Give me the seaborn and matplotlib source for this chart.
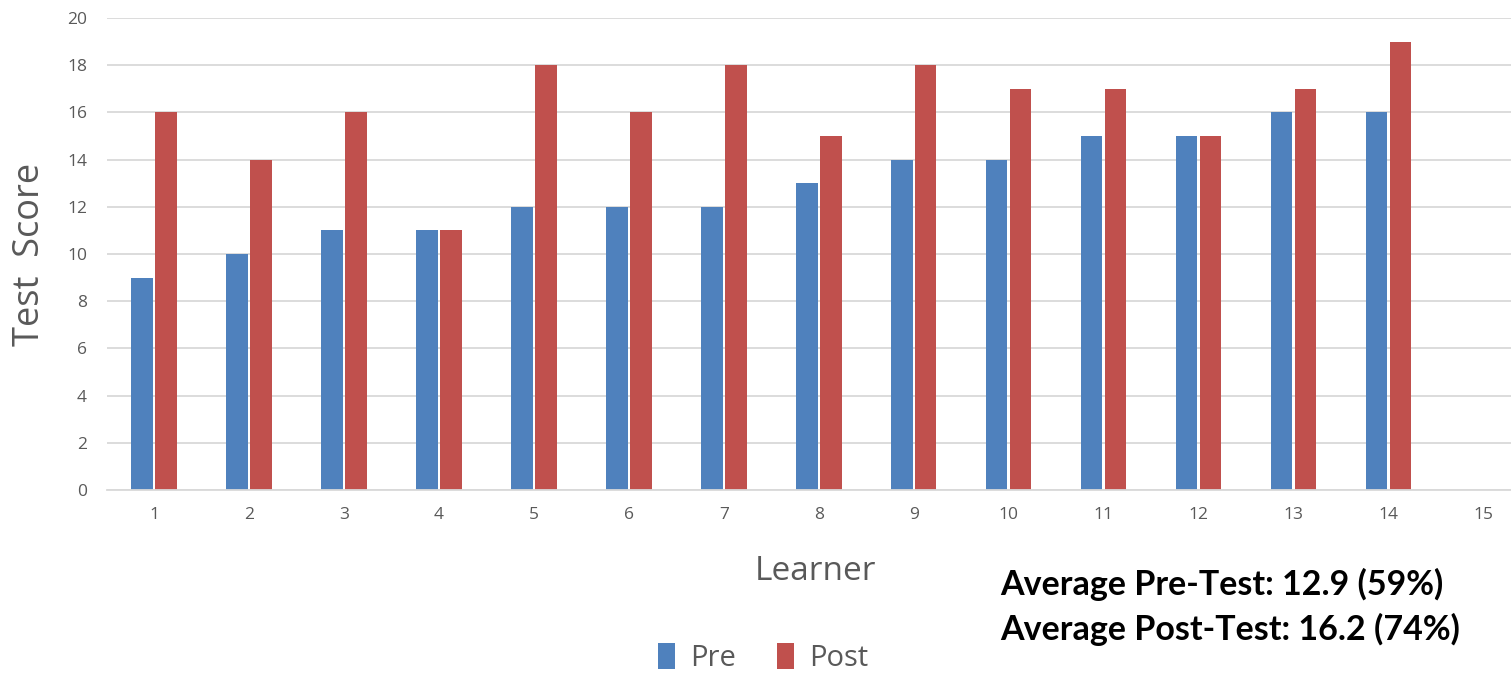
import matplotlib
matplotlib.use("Agg")
import matplotlib.pyplot as plt
import seaborn as sns
import pandas as pd
from matplotlib.patches import Patch

# Scores per learner
learners = [str(i) for i in range(1, 16)]
pre_scores = [9, 10, 11, 11, 12, 12, 12, 13, 14, 14, 15, 15, 16, 16]
post_scores = [16, 14, 16, 11, 18, 16, 18, 15, 18, 17, 17, 15, 17, 19]
series_names = ["Pre", "Post"]
series_colors = ["#4F81BD", "#C0504D"]
y_ticks = [0, 2, 4, 6, 8, 10, 12, 14, 16, 18, 20]
summary_lines = ["Average Pre-Test: 12.9 (59%)", "Average Post-Test: 16.2 (74%)"]

rows = []
for i, (a, b) in enumerate(zip(pre_scores, post_scores)):
    rows.append({"Learner": learners[i], "Test": "Pre", "Score": a})
    rows.append({"Learner": learners[i], "Test": "Post", "Score": b})
df = pd.DataFrame(rows)

sns.set_theme(style="white")
plt.rcParams["font.family"] = ["Open Sans", "DejaVu Sans"]

W, H = 1511, 674
fig = plt.figure(figsize=(W / 100, H / 100), dpi=100)
left, right = 106.5, 1531.0
top, bottom = 18.0, 490.0
ax = fig.add_axes([left / W, 1 - bottom / H, (right - left) / W, (bottom - top) / H])

sns.barplot(data=df, x="Learner", y="Score", hue="Test", order=learners,
            hue_order=series_names, palette=series_colors, width=0.505,
            gap=0.1, saturation=1, errorbar=None, legend=False, linewidth=0,
            ax=ax)

ax.set_xlim(-0.5, len(learners) - 0.5)
ax.set_ylim(0, 20)
ax.set_yticks(y_ticks)
ax.yaxis.grid(True, color="#D9D9D9", linewidth=1.3)
ax.set_axisbelow(True)
for s in ["top", "right", "left"]:
    ax.spines[s].set_visible(False)
ax.spines["bottom"].set_color("#D9D9D9")
ax.spines["bottom"].set_linewidth(1.3)
ax.tick_params(axis="both", length=0, labelsize=12.5, labelcolor="#595959")
ax.tick_params(axis="x", pad=12)
ax.tick_params(axis="y", pad=14)

ax.set_xlabel("")
ax.set_ylabel("")
fig.text(30 / W, 1 - 254 / H, "Test  Score", rotation=90, ha="center", va="center",
         fontsize=26, color="#595959")
fig.text(815 / W, 1 - 572 / H, "Learner", ha="center", va="center",
         fontsize=24, color="#595959")

handles = [Patch(facecolor=c, edgecolor="none") for c in series_colors]
fig.legend(handles, series_names, loc="center", bbox_to_anchor=(763 / W, 1 - 658 / H),
           ncol=2, frameon=False, fontsize=21, labelcolor="#595959",
           handlelength=0.6, handleheight=1.0, handletextpad=0.5, columnspacing=1.4)

for k, line in enumerate(summary_lines):
    fig.text(1000 / W, 1 - (584 + 45 * k) / H, line, ha="left", va="center",
             fontsize=24.5, fontweight="bold", color="black",
             family=["Lato", "DejaVu Sans"])

fig.savefig("out.png", dpi=100)
